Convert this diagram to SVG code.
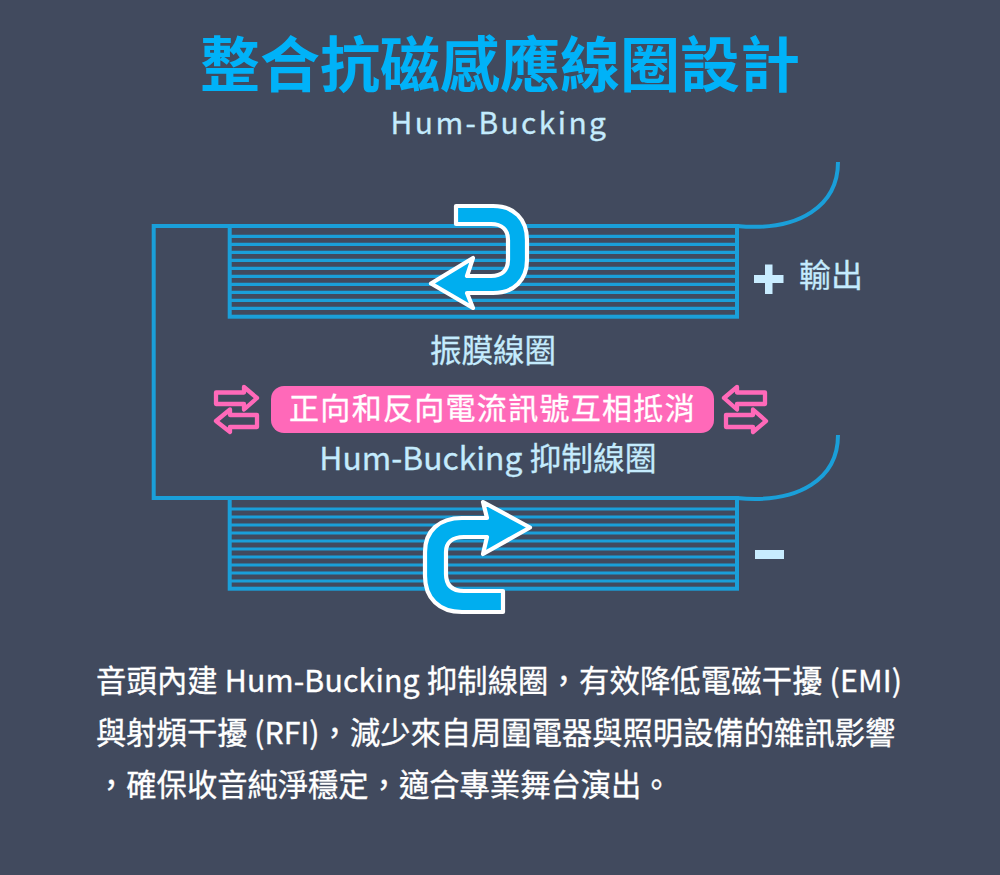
<svg xmlns="http://www.w3.org/2000/svg" width="1000" height="875" viewBox="0 0 1000 875">
<style>
text{font-family:"Noto Sans CJK TC","Noto Sans",sans-serif}
.c{fill:none;stroke:#1a9fd9}
.b{stroke-width:4}
.l{stroke-width:3.200}
.big{fill:#00aeef;stroke:#fff;stroke-width:4.200;stroke-linejoin:round}
.pa{fill:none;stroke:#ff69b9;stroke-width:4.300;stroke-linejoin:round}
.lb{fill:#c4ebfd;stroke:#c4ebfd;stroke-width:.3}
.body{fill:#fff;stroke:#fff;stroke-width:.35;font-size:30.300px;font-weight:400}
</style>
<rect width="1000" height="875" fill="#414a5e"/>
<g id="title"><text x="500" y="87" text-anchor="middle" font-size="60" font-weight="700" fill="#00b2f8">整合抗磁感應線圈設計</text></g>
<g id="subtitle"><text x="499.500" y="134" text-anchor="middle" font-size="30" letter-spacing="2.400" class="lb">Hum-Bucking</text></g>
<g id="connectors">
<path class="c b" d="M229.700 498H153.700V226H229.700"/>
<path class="c b" d="M737 226C800 232 838 205 838 162"/>
<path class="c b" d="M737 498C800 504 838 478 838 435"/>
</g>
<g id="coil-top">
<path class="c l" d="M229 236.300H737M229 244.300H737M229 252.300H737M229 260.300H737M229 268.300H737M229 276.300H737M229 284.300H737M229 292.300H737M229 300.300H737M229 308.300H737"/>
<rect class="c b" x="229.700" y="226" width="507.300" height="90.700"/>
</g>
<g id="coil-bottom">
<path class="c l" d="M229 509H737M229 517H737M229 525H737M229 533H737M229 541H737M229 549H737M229 557H737M229 565H737M229 573H737M229 581H737"/>
<rect class="c b" x="229.700" y="498" width="507.300" height="90.700"/>
</g>
<g id="arrow-top"><path class="big" d="M456 206H493C514 206 527 219 527 240V260C527 280 514 293 493 293H467L473 308L431 283.500L473 258L467 276H491C502 276 508 270 508 260V240C508 230 502 224 491 224H456Z"/></g>
<g id="arrow-bottom"><path class="big" d="M503 612H462C439 612 425 598 425 576V552C425 531 439 518 462 518H487L483 502L530 527.500L483 554L487 537H464C452 537 446 543 446 552V574C446 585 452 591 464 591H503Z"/></g>
<g id="label-top"><text x="493" y="362" text-anchor="middle" font-size="31.500" class="lb">振膜線圈</text></g>
<g id="pill">
<rect x="271" y="386" width="443" height="47" rx="13" fill="#ff69b9"/>
<text x="492.500" y="419" text-anchor="middle" font-size="30" letter-spacing="1.300" fill="#fff" stroke="#fff" stroke-width=".35">正向和反向電流訊號互相抵消</text>
</g>
<g id="swap-left">
<path class="pa" d="M216 392.500H244V387L257 398L244 409.500V404H216Z"/>
<path class="pa" d="M257 415H230V409.500L216 421L230 432V427H257Z"/>
</g>
<g id="swap-right">
<path class="pa" d="M765 392.500H737V387L724 398L737 409.500V404H765Z"/>
<path class="pa" d="M726 415H753V409.500L766 421L753 432V427H726Z"/>
</g>
<g id="label-bottom"><text x="488" y="470" text-anchor="middle" font-size="31.800" class="lb">Hum-Bucking 抑制線圈</text></g>
<g id="plus"><path d="M754 275H765V264.500H772.500V275H783.500V283H772.500V294H765V283H754Z" fill="#c8ecff"/></g>
<g id="output"><text x="831" y="287" text-anchor="middle" font-size="32" class="lb">輸出</text></g>
<g id="minus"><rect x="755" y="550" width="29" height="9" fill="#c8ecff"/></g>
<g id="body">
<text x="96" y="692" class="body" textLength="806">音頭內建 Hum-Bucking 抑制線圈，有效降低電磁干擾 (EMI)</text>
<text x="96" y="744" class="body">與射頻干擾 (RFI)，減少來自周圍電器與照明設備的雜訊影響</text>
<text x="96" y="796" class="body">，確保收音純淨穩定，適合專業舞台演出。</text>
</g>
</svg>
